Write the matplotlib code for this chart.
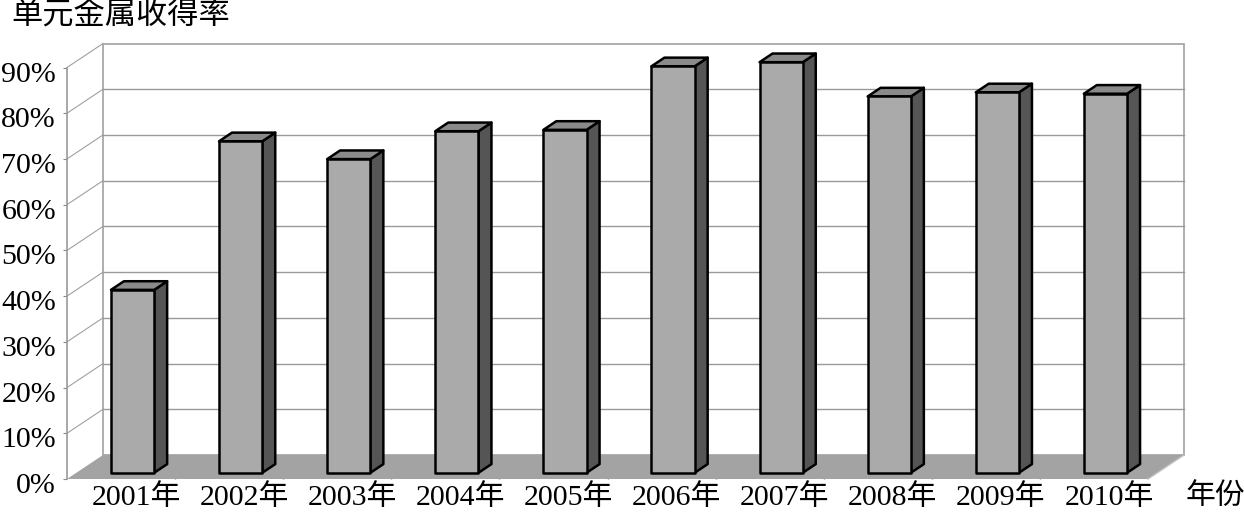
import matplotlib
matplotlib.use("Agg")
import matplotlib.pyplot as plt
from matplotlib.patches import Polygon
from matplotlib.transforms import ScaledTranslation
import numpy as np

# ---- data ----
categories = ["2001年", "2002年", "2003年", "2004年", "2005年",
              "2006年", "2007年", "2008年", "2009年", "2010年"]
values = [40.0, 72.5, 68.6, 74.7, 75.0, 88.9, 89.8, 82.3, 83.2, 82.9]
y_ticks = [0, 10, 20, 30, 40, 50, 60, 70, 80, 90]
y_tick_labels = ["0%", "10%", "20%", "30%", "40%", "50%", "60%", "70%", "80%", "90%"]
y_title = "单元金属收得率"
x_title = "年份"

FONT = ['Liberation Serif', 'Noto Sans CJK SC']
FS = 21.5

W, H = 1244, 517
fig = plt.figure(figsize=(W / 100, H / 100), dpi=100)
fig.patch.set_facecolor("white")

# front plane of the 3D box
ax = fig.add_axes([67 / W, (H - 479) / H, (1148 - 67) / W, (479 - 67.5) / H])
n = len(categories)
ymax = 90
ax.set_xlim(-0.5, n - 0.5)
ax.set_ylim(0, ymax)
for s in ax.spines.values():
    s.set_visible(False)
ax.set_facecolor("none")

# depth offsets (per unit depth) in data units
px_x = (1148 - 67) / n
px_y = (479 - 67.5) / ymax
OX = 36 / px_x
OY = 24 / px_y


def P(x, y, d):
    return (x + d * OX, y + d * OY)


def poly(pts, **kw):
    p = Polygon(pts, closed=True, clip_on=False, **kw)
    ax.add_patch(p)
    return p


x0, x1 = -0.5, n - 0.5
grid_c = "#9a9a9a"

# back wall
poly([P(x0, 0, 1), P(x1, 0, 1), P(x1, ymax, 1), P(x0, ymax, 1)],
     facecolor="white", edgecolor="#a8a8a8", lw=1.3, zorder=1)
for v in y_ticks[1:-1]:
    a, b = P(x0, v, 1), P(x1, v, 1)
    ax.plot([a[0], b[0]], [a[1], b[1]], color=grid_c, lw=1.0, zorder=2, clip_on=False)
for v in y_ticks[1:]:
    a, b = P(x0, v, 0), P(x0, v, 1)
    ax.plot([a[0], b[0]], [a[1], b[1]], color="#a0a0a0", lw=0.8, zorder=2, clip_on=False)
a, b = P(x0, 0, 0), P(x0, ymax, 0)
ax.plot([a[0], b[0]], [a[1], b[1]], color="#9a9a9a", lw=1.2, zorder=3, clip_on=False)

# floor
poly([P(x0, 0, 0), P(x1, 0, 0), P(x1, 0, 1), P(x0, 0, 1)],
     facecolor="#a3a3a3", edgecolor="none", zorder=3)
a, b = P(x1, 0, 0), P(x1, 0, 1)
ax.plot([a[0], b[0]], [a[1], b[1]], color="#c0c0c0", lw=1.0, zorder=3, clip_on=False)

# bars
d0, d1 = 0.26, 0.62
hw = 0.2
shift = 0.02
for i, v in enumerate(values):
    xc = i + shift
    xl, xr = xc - hw, xc + hw
    kw = dict(edgecolor="black", lw=1.8, joinstyle="round", zorder=5)
    poly([P(xr, 0, d0), P(xr, 0, d1), P(xr, v, d1), P(xr, v, d0)], facecolor="#555555", **kw)
    poly([P(xl, v, d0), P(xr, v, d0), P(xr, v, d1), P(xl, v, d1)], facecolor="#8a8a8a", **kw)
    poly([P(xl, 0, d0), P(xr, 0, d0), P(xr, v, d0), P(xl, v, d0)], facecolor="#aaaaaa", **kw)

# ticks & labels
ax.set_yticks(y_ticks)
ax.set_yticklabels(y_tick_labels, family=FONT, fontsize=FS)
ax.tick_params(axis="y", length=3, color="#888888", pad=5)
down = ScaledTranslation(0, -4 / 100, fig.dpi_scale_trans)
for lab in ax.get_yticklabels():
    lab.set_transform(lab.get_transform() + down)
ax.set_xticks(np.arange(n) + 0.14)
ax.set_xticklabels(categories, family=FONT, fontsize=FS)
ax.tick_params(axis="x", which="major", length=0, pad=4)
ax.set_xticks(np.arange(1, n) - 0.5, minor=True)
ax.tick_params(axis="x", which="minor", direction="in", length=4.5, color="#777777", width=1)

fig.text(11 / W, 1 - 17 / H, y_title, family=FONT, fontsize=22.5, ha="left", va="center")
fig.text(1186 / W, 1 - 497 / H, x_title, family=FONT, fontsize=FS, ha="left", va="center")

fig.savefig("out.png", dpi=100, facecolor="white")
